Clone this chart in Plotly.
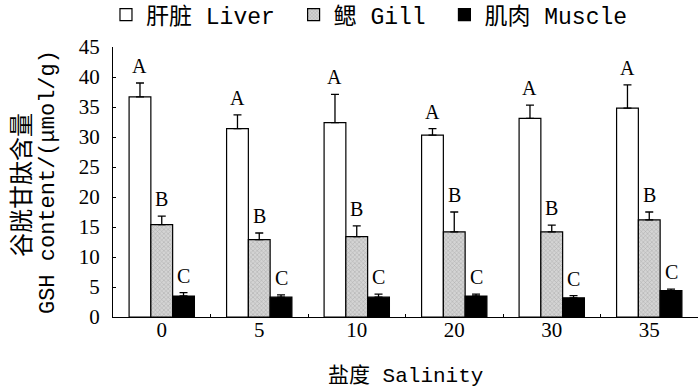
import plotly.graph_objects as go

salinity = ["0", "5", "10", "20", "30", "35"]
liver = [36.7, 31.4, 32.4, 30.3, 33.1, 34.8]
liver_err = [2.3, 2.3, 4.7, 1.1, 2.2, 3.9]
gill = [15.4, 12.9, 13.4, 14.2, 14.2, 16.2]
gill_err = [1.4, 1.1, 1.8, 3.3, 1.1, 1.3]
muscle = [3.5, 3.3, 3.3, 3.5, 3.2, 4.4]
muscle_err = [0.55, 0.4, 0.5, 0.3, 0.35, 0.25]
letters = ["A", "B", "C"]
names = ["肝脏 Liver\u00a0", "鳃 Gill\u00a0", "肌肉 Muscle"]

LEG_FONT = "Liberation Mono, Noto Sans CJK SC"
NUM_FONT = "Liberation Serif, Times New Roman, serif"

fig = go.Figure()
series = [(liver, liver_err), (gill, gill_err), (muscle, muscle_err)]
styles = [
    dict(color="white"),
    dict(color="#d4d4d4", pattern=dict(shape="x", fgcolor="#8c8c8c", size=3, solidity=0.35)),
    dict(color="black"),
]
for (vals, errs), name, st in zip(series, names, styles):
    fig.add_trace(go.Bar(
        x=salinity, y=vals, name=name,
        marker=dict(line=dict(color="black", width=1.2), **st),
        error_y=dict(type="data", array=errs, arrayminus=[0] * len(errs), symmetric=False,
                     color="black", thickness=1.3, width=4),
    ))

bargap = 0.33
bw = (1 - bargap) / 3
for k, ((vals, errs), letter) in enumerate(zip(series, letters)):
    for i, (v, e) in enumerate(zip(vals, errs)):
        fig.add_annotation(x=i + (k - 1) * bw, y=v + e, xref="x", yref="y",
                           text=letter, showarrow=False, yanchor="bottom", yshift=4,
                           font=dict(family=NUM_FONT, size=20, color="black"))

fig.add_annotation(xref="paper", yref="paper", x=0.5, y=-0.217, yanchor="middle",
                   text="盐度 Salinity", showarrow=False,
                   font=dict(family=LEG_FONT, size=21, color="black"))
fig.add_annotation(xref="paper", yref="paper", x=-0.16, xanchor="center", y=0.49,
                   text="谷胱甘肽含量", showarrow=False, textangle=-90,
                   font=dict(family="Noto Sans CJK SC", size=24, color="black"))
fig.add_annotation(xref="paper", yref="paper", x=-0.111, xanchor="center", y=0.5,
                   text="GSH content/(μmol/g)", showarrow=False, textangle=-90,
                   font=dict(family=LEG_FONT, size=22, color="black"))

fig.update_layout(
    width=700, height=390,
    margin=dict(l=113, r=2, t=47, b=73, autoexpand=False),
    plot_bgcolor="white", paper_bgcolor="white",
    barmode="group", bargap=bargap, bargroupgap=0,
    showlegend=True,
    legend=dict(orientation="h", x=-0.012, xanchor="left", y=1.199, yanchor="top",
                font=dict(family=LEG_FONT, size=23, color="black"),
                bgcolor="rgba(0,0,0,0)", traceorder="normal"),
    xaxis=dict(type="category", showline=True, linecolor="black", linewidth=1.2,
               ticks="inside", ticklen=3, tickcolor="black", tickson="boundaries",
               showgrid=False, zeroline=False, ticklabelstandoff=-6,
               tickfont=dict(family=NUM_FONT, size=21, color="black")),
    yaxis=dict(range=[0, 45], dtick=5, showline=True, linecolor="black", linewidth=1.2,
               ticks="inside", ticklen=3, tickcolor="black", showgrid=False, zeroline=False,
               ticklabelstandoff=8,
               tickfont=dict(family=NUM_FONT, size=21, color="black")),
)

fig.write_html("out.html", config={"displayModeBar": False},
               post_script="document.body.style.margin='0';")
